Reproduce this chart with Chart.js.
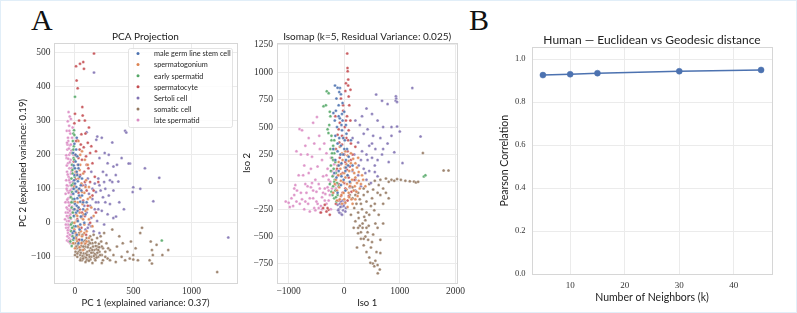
<!DOCTYPE html>
<html>
<head>
<meta charset="utf-8">
<script src="https://cdn.jsdelivr.net/npm/chart.js@4.4.0/dist/chart.umd.min.js"></script>
<style>
  body { margin: 0; background: #fff; }
  #wrap { position: relative; width: 797px; height: 313px; overflow: hidden; }
  canvas { position: absolute; top: 0; }
  .tag { position: absolute; top: 5px; font-family: "Liberation Serif", "DejaVu Serif", serif; font-size: 30px; line-height: 1; color: #111; }
  #edge { position: absolute; left: 0; top: 0; right: 0; bottom: 0; border: 1px solid #e1eef8; pointer-events: none; }
</style>
</head>
<body>
<div id="wrap">
  <div class="tag" style="left:31px">A</div>
  <div class="tag" style="left:469px">B</div>
  <canvas id="pca" width="245" height="313" style="left:0px"></canvas>
  <canvas id="iso" width="236" height="313" style="left:232px"></canvas>
  <canvas id="corr" width="317" height="313" style="left:480px"></canvas>
  <div id="edge"></div>
</div>
<script>
// cell types, in legend order
const cellTypes = ['male germ line stem cell', 'spermatogonium', 'early spermatid', 'spermatocyte', 'Sertoli cell', 'somatic cell', 'late spermatid'];
const typeColors = ['#4C72B0', '#DD8452', '#55A868', '#C44E52', '#8172B3', '#937860', '#DA8BC3'];

// ---- PCA projection (PC1, PC2) ----
const pcaStem = [[-5,232],[10,215],[-15,205],[20,195],[5,180],[-10,168],[30,160],[15,150],[-5,140],[40,135],[25,122],[0,115],[50,110],[35,100],[10,92],[-15,85],[60,80],[20,72],[45,62],[0,55],[30,45],[70,40],[10,30],[-10,20],[50,18],[25,5],[80,0],[5,-10],[40,-20],[15,-35],[-10,-45],[60,-50],[30,-60],[-20,-30],[90,25],[100,60],[60,130],[-5,70],[15,250],
  [0,160],[20,140],[-8,125],[12,105],[35,80],[-5,40],[15,50],[55,95],[28,170],[5,200],[-12,100],[22,35],[45,-5],[-8,-25],[70,60]];
const pcaGonium = [[30,240],[60,210],[15,195],[85,185],[45,170],[110,170],[5,150],[70,145],[30,130],[95,125],[55,115],[-10,105],[120,105],[20,95],[80,88],[45,75],[110,70],[0,62],[65,55],[30,45],[140,45],[90,35],[10,25],[55,15],[120,10],[-5,0],[80,-5],[35,-15],[150,-10],[100,-25],[5,-30],[60,-40],[20,-55],[90,-60],[40,-72],[-15,-60],[0,-75],[70,-80],[120,-45],[160,20],[45,200],[25,-10],
  [10,-45],[35,-35],[55,-60],[80,-30],[100,-55],[20,20],[40,30],[70,10],[0,40],[25,60],[60,90],[90,105],[10,140],[40,155],[-5,-20],[15,5],[50,-25],[75,25],[105,40],[130,75]];
const pcaEarly = [[0,370],[-8,272],[-14,262],[-5,258],[-18,240],[-10,225],[-22,205],[-12,190],[-25,170],[-8,160],[-20,145],[-30,130],[-15,115],[-5,100],[-25,90],[-35,75],[-12,60],[-28,45],[-18,30],[-38,15],[-22,0],[-10,-10],[-32,-25],[-20,-40],[-40,-55],[-28,-68],[-15,-50],[-8,20],[-35,-5],[745,-52],[-2,135],[-20,70],
  [-28,110],[-22,155],[-30,60],[-12,40],[-25,-15],[-18,-60],[-6,185],[-14,215]];
const pcaCyte = [[163,497],[71,472],[43,467],[9,460],[77,452],[14,418],[23,395],[63,340],[66,315],[0,320],[35,300],[-5,292],[90,262],[55,260],[20,242],[110,235],[75,222],[40,215],[130,205],[0,200],[95,195],[60,185],[150,175],[25,170],[115,160],[80,150],[45,140],[170,135],[5,128],[130,120],[65,110],[100,95],[30,88],[150,80],[70,65],[-5,60],[110,50],[40,40],[180,30],[85,20],[20,10],[130,0],[55,-15],[0,-28],[95,-35],[35,-50],[-15,-15],[160,95],[200,120],[120,280],[85,300],[140,225],[180,210],
  [10,240],[-10,180],[30,190],[50,230],[15,145],[-5,110],[40,100],[85,120],[60,30],[100,170]];
const pcaSertoli = [[163,441],[320,236],[191,253],[183,244],[100,266],[472,174],[460,174],[372,121],[500,104],[495,90],[723,132],[672,63],[420,40],[352,18],[329,14],[1315,-43],[430,270],[440,265],[255,205],[210,190],[280,175],[330,165],[240,150],[200,130],[300,125],[170,115],[260,100],[220,95],[180,90],[150,70],[240,75],[290,80],[200,60],[130,50],[170,40],[230,35],[280,25],[140,15],[190,5],[250,-5],[110,-15],[160,-25],[210,-30],[120,85],[90,110],[140,150],[360,170],[400,190],[270,140],[330,95],[300,55],[380,60],[560,100],[600,160],[230,250],[250,120],
  [60,20],[80,50],[100,30],[120,-5],[90,-20],[150,100],[180,60],[210,110],[110,130],[140,-10],[200,40],[260,60],[320,120],[350,140],[290,200]];
const pcaSomatic = [[0,-60],[15,-75],[30,-85],[45,-95],[60,-80],[75,-90],[90,-70],[105,-85],[120,-95],[135,-75],[150,-60],[165,-80],[180,-95],[195,-70],[210,-85],[225,-55],[240,-75],[20,-100],[50,-105],[80,-100],[110,-108],[140,-100],[170,-105],[200,-100],[230,-95],[10,-40],[40,-50],[70,-55],[100,-45],[130,-40],[160,-35],[190,-45],[220,-40],[250,-30],[270,-60],[300,-80],[330,-95],[360,-70],[280,-105],[240,-110],[60,-110],[100,-110],[25,-65],[55,-68],[85,-62],[115,-65],[145,-50],[175,-58],[205,-62],[35,-30],[65,-35],[95,-90],[125,-82],[155,-88],[185,-78],[320,-20],[380,-40],[410,-60],[450,-85],[400,-100],[430,-110],[470,-105],[500,-95],[520,-75],[560,-30],[575,-15],[480,-55],[650,-55],[660,-80],[668,-95],[640,-110],[700,-65],[800,-80],[750,-95],[660,-120],[540,-110],[500,-108],[1220,-145],[350,-115],[300,-110],[260,-100],[230,-118],[150,-118],
  [5,-85],[20,-90],[35,-72],[50,-88],[65,-98],[80,-78],[95,-102],[110,-72],[125,-100],[140,-88],[155,-70],[170,-92],[185,-102],[200,-80],[215,-95],[230,-70],[10,-70],[28,-55],[42,-80],[58,-58],[72,-70],[88,-52],[102,-95],[118,-55],[132,-108],[148,-80],[162,-98],[178,-68],[192,-88],[208,-72],[260,-85],[285,-75],[0,-95],[45,-110],[90,-115],[15,-50],[70,-105],[130,-60],[175,-110],[120,-112]];
const pcaLate = [[-55,325],[-45,312],[-62,298],[-35,305],[-50,285],[-70,270],[-40,262],[-25,250],[-58,240],[-45,228],[-65,215],[-30,212],[-50,200],[-72,190],[-38,185],[-60,175],[-25,170],[-48,160],[-68,150],[-35,145],[-55,135],[-75,125],[-42,118],[-62,108],[-28,100],[-50,92],[-80,85],[-35,80],[-58,72],[-70,62],[-45,55],[-25,48],[-62,40],[-78,30],[-40,25],[-55,15],[-68,5],[-32,0],[-50,-8],[-75,-15],[-42,-22],[-60,-30],[-30,-38],[-52,-45],[-68,-52],[-40,-60],[-85,10],[-82,60],[-65,95],[-45,130],[-30,160],[-55,60],[-38,40],[-60,-5],[-48,20],[-70,110],[-20,120],[-35,230],[-15,200],[-20,280],
  [-65,230],[-52,218],[-40,205],[-75,198],[-58,188],[-45,178],[-70,168],[-30,152],[-62,142],[-50,125],[-38,110],[-72,100],[-55,88],[-42,75],[-66,68],[-30,62],[-50,50],[-72,45],[-60,30],[-45,35],[-35,12],[-70,20],[-58,-15],[-45,-35],[-65,-40],[-55,-55],[-38,-50],[-78,-5],[-25,30],[-28,85],[-60,250],[-48,270],[-68,235],[-40,95],[-52,5],[-62,-22]];

// ---- Isomap embedding (Iso 1, Iso 2) ----
const isoStem = [[-166,879],[-77,858],[-120,860],[-195,629],[-140,760],[-60,800],[-100,700],[-30,720],[-170,560],[-80,580],[0,640],[-130,500],[-40,470],[30,520],[-160,420],[-90,400],[10,380],[-60,330],[50,300],[-120,280],[-20,250],[80,230],[-160,200],[-50,170],[30,130],[-100,100],[60,60],[-140,40],[-10,20],[100,0],[-60,-30],[20,-80],[-120,-100],[150,150],[120,380],[-200,300],[-30,560],[40,440],
  [-100,600],[-50,520],[-120,350],[0,300],[-70,250],[30,200],[-100,150],[20,100],[-50,50],[-180,80],[70,150],[-20,400],[-150,650],[-90,820],[-40,620]];
const isoGonium = [[-80,320],[20,280],[120,260],[-30,200],[80,190],[200,170],[-120,150],[10,130],[150,110],[260,90],[-60,70],[60,60],[200,40],[-150,20],[-20,0],[110,-10],[300,-20],[-90,-50],[40,-70],[170,-80],[-50,-120],[90,-140],[240,-130],[-130,-170],[20,-190],[150,-200],[320,60],[380,-40],[-200,-100],[250,220],[-10,400],[100,-40],[0,-160],[200,-160],
  [-40,260],[60,240],[160,210],[-100,180],[40,160],[120,170],[230,130],[-70,120],[90,100],[180,80],[-110,60],[20,40],[140,20],[260,10],[-60,10],[50,-20],[190,-40],[-130,-80],[80,-100],[220,-90],[-10,-100],[130,-160],[-80,-160],[60,-230],[280,-60],[340,20],[-170,-20],[0,80],[230,-10],[-40,-200]];
const isoEarly = [[-314,827],[-280,810],[-373,690],[-330,700],[-284,446],[-300,480],[-250,600],[-270,520],[-230,380],[-200,330],[-250,300],[-180,260],[-220,220],[-160,180],[-240,150],[-190,120],[-150,80],[-210,50],[-170,20],[-130,-10],[-200,-40],[-160,-80],[-120,-120],[-180,-150],[-140,-180],[-100,-40],[-230,-90],[-260,-20],[1433,49],[1460,60],[-220,260],[-180,380],
  [-200,200],[-240,100],[-180,0],[-210,-120],[-150,-140],[-190,300],[-230,420],[-260,640]];
const isoCyte = [[53,1172],[59,1040],[62,1010],[71,934],[112,842],[80,780],[20,830],[-60,760],[90,700],[-20,650],[50,600],[110,560],[-80,540],[10,500],[80,470],[-120,430],[40,400],[120,350],[-40,340],[-150,300],[60,280],[150,250],[-80,220],[20,180],[100,140],[-130,120],[-30,80],[80,40],[180,20],[-100,-20],[20,-60],[130,-90],[-60,-130],[60,-170],[-150,-200],[-284,-256],[-320,-270],[-380,-240],[-420,-280],[-260,-300],[-350,-210],[-300,-240],[200,320],[-160,600],
  [-100,480],[30,560],[-40,420],[70,380],[-90,360],[0,250],[120,200],[-60,160],[50,110],[-110,60],[0,-10],[110,-40],[-30,-100],[80,-130],[-100,-170],[-20,700],[30,900],[70,880]];
const isoSertoli = [[1225,858],[574,797],[930,781],[935,760],[925,740],[950,730],[680,740],[780,710],[1373,415],[1048,171],[400,670],[320,600],[500,620],[200,560],[600,560],[280,520],[420,480],[700,500],[850,500],[950,505],[350,440],[520,420],[150,400],[650,400],[250,360],[450,330],[780,350],[560,300],[320,280],[900,270],[180,250],[680,250],[420,200],[550,150],[260,150],[800,180],[150,100],[380,80],[600,50],[200,20],[480,-10],[100,-50],[-48,-226],[-80,-200],[-20,-260],[-100,-250],[-60,-290],[0,-200],[-30,-170],[-120,-210],[30,-240],[700,300],[850,420],[1000,460],
  [300,200],[400,250],[500,220],[350,120],[450,100],[250,60],[550,90],[400,20],[300,-40],[200,-80],[500,350],[600,200],[-70,-230],[-10,-220],[-90,-280],[-40,-300],[20,-270],[-110,-260],[-60,-180],[10,-180]];
const isoSomatic = [[604,-836],[640,-800],[515,-745],[540,-770],[560,-720],[249,-470],[300,-520],[350,-580],[400,-640],[450,-690],[480,-600],[380,-500],[280,-400],[200,-360],[330,-420],[430,-530],[520,-480],[600,-420],[650,-530],[700,-380],[620,-300],[540,-260],[450,-300],[360,-320],[250,-280],[180,-240],[300,-200],[400,-180],[500,-150],[600,-100],[700,-60],[150,-150],[250,-100],[350,-60],[450,-20],[550,10],[650,20],[750,30],[850,20],[950,25],[1019,18],[1100,10],[1180,5],[1255,3],[1290,-5],[1330,0],[1788,104],[1876,104],[1415,263],[230,-600],[170,-420],[120,-300],[700,-200],[800,-150],[580,-640],[650,-650],[400,-420],
  [150,-50],[200,-120],[280,-160],[350,-120],[420,-90],[320,-250],[400,-280],[480,-220],[550,-200],[220,-200],[260,-330],[330,-380],[380,-350],[440,-400],[300,-460],[350,-520],[420,-460],[500,-550],[470,-740],[600,-760],[250,-420],[560,-380],[650,-120],[750,-100],[100,-120],[180,-80],[520,-70],[620,-30],[800,0],[900,10]];
const isoLate = [[-1053,-180],[-805,482],[-760,470],[-491,592],[-560,540],[-640,400],[-700,330],[-860,280],[-950,-150],[-1000,-190],[-900,-120],[-980,-230],[-920,-220],[-850,-80],[-800,-200],[-880,-30],[-760,-160],[-720,-250],[-680,-100],[-650,-200],[-600,-50],[-620,-270],[-560,-150],[-540,-240],[-500,-90],[-480,-200],[-460,-20],[-430,-280],[-400,-140],[-380,50],[-350,-60],[-320,-200],[-300,120],[-280,20],[-260,-120],[-240,220],[-220,-60],[-200,60],[-180,160],[-160,-30],[-720,150],[-640,80],[-580,230],[-520,20],[-480,140],[-440,300],[-400,200],[-360,350],[-320,260],[-600,120],[-540,350],[-450,420],[-700,-20],[-820,60],[-780,250],[-660,250],[-420,-220],[-350,-170],[-280,-170],[-240,-250],
  [-300,-50],[-250,0],[-200,-100],[-180,200],[-140,100],[-150,-60],[-320,60],[-380,-100],[-440,-60],[-500,-180],[-560,-80],[-620,-150],[-700,-180],[-780,-100],[-860,-180],[-900,-60],[-740,60],[-660,-40],[-580,-10],[-520,-260],[-460,-240],[-400,-250],[-340,-110],[-280,-80],[-220,100]];

const pcaGroups = [pcaStem, pcaGonium, pcaEarly, pcaCyte, pcaSertoli, pcaSomatic, pcaLate];
const isoGroups = [isoStem, isoGonium, isoEarly, isoCyte, isoSertoli, isoSomatic, isoLate];

// ---- panel B ----
const neighbors = [5, 10, 15, 30, 45];
const pearson = [0.926, 0.930, 0.935, 0.944, 0.950];

// tick labels
const pcaXTicks = [0, 500, 1000];
const pcaYTicks = [-100, 0, 100, 200, 300, 400, 500];
const isoXTicks = [-1000, 0, 1000, 2000];
const isoYTicks = [-750, -500, -250, 0, 250, 500, 750, 1000, 1250];
const kTicks = [10, 20, 30, 40];
const corrTicks = [0, 0.2, 0.4, 0.6, 0.8, 1.0];

const SANS = 'Lato, "DejaVu Sans", sans-serif';
const SERIF = '"Liberation Serif", "DejaVu Serif", serif';
const minus = v => String(v).replace('-', '\u2212');

// light frame round the plot area, like the seaborn whitegrid spines
const frame = {
  id: 'frame',
  beforeDatasetsDraw(chart) {
    const a = chart.chartArea, ctx = chart.ctx;
    ctx.save();
    ctx.strokeStyle = '#d6d6d6';
    ctx.lineWidth = 1;
    ctx.strokeRect(Math.round(a.left) + 0.5, Math.round(a.top) + 0.5, Math.round(a.right - a.left), Math.round(a.bottom - a.top));
    ctx.restore();
  }
};

// legend box drawn inside the PCA plot (upper right)
const innerLegend = {
  id: 'innerLegend',
  afterDatasetsDraw(chart) {
    const a = chart.chartArea, ctx = chart.ctx;
    const w = 104, h = 79;
    const x0 = a.right - w - 5, y0 = a.top + 5;
    ctx.save();
    ctx.fillStyle = 'rgba(255,255,255,0.85)';
    ctx.strokeStyle = '#dcdcdc';
    ctx.lineWidth = 0.8;
    ctx.beginPath();
    ctx.roundRect(x0 + 0.5, y0 + 0.5, w, h, 2);
    ctx.fill();
    ctx.stroke();
    ctx.font = '7.3px ' + SANS;
    ctx.textBaseline = 'middle';
    cellTypes.forEach((name, i) => {
      const y = y0 + 5.5 + i * 11.1;
      ctx.beginPath();
      ctx.arc(x0 + 10, y, 1.5, 0, Math.PI * 2);
      ctx.fillStyle = typeColors[i];
      ctx.fill();
      ctx.fillStyle = '#262626';
      ctx.fillText(name, x0 + 26, y + 0.5);
    });
    ctx.restore();
  }
};

function axis(opt) {
  return {
    type: 'linear',
    min: opt.min,
    max: opt.max,
    afterBuildTicks: s => { s.ticks = opt.ticks.map(v => ({ value: v })); },
    afterFit: s => { if (opt.horizontal) s.height = opt.size; else s.width = opt.size; },
    grid: { color: '#ebebeb', lineWidth: 1, drawTicks: false },
    border: { display: false },
    ticks: {
      padding: opt.tickPad,
      color: '#333',
      autoSkip: false,
      maxRotation: 0,
      font: { family: SERIF, size: opt.tickSize || 9.5 },
      callback: opt.fmt || minus
    },
    title: {
      display: true,
      text: opt.title,
      color: '#222',
      font: { family: SANS, size: opt.titleSize || 9.5, lineHeight: 1.2 },
      padding: opt.titlePad
    }
  };
}

function scatterDatasets(groups) {
  return groups.map((pts, i) => ({
    label: cellTypes[i],
    data: pts.map(p => ({ x: p[0], y: p[1] })),
    backgroundColor: typeColors[i] + 'e6',
    borderColor: 'rgba(255,255,255,0.8)',
    borderWidth: 0.4,
    pointRadius: 1.5
  }));
}

function plotTitle(text, size) {
  return {
    display: true,
    text: text,
    fullSize: false,
    color: '#222',
    font: { family: SANS, size: size, weight: 'normal', lineHeight: 1.2 },
    padding: 0
  };
}

new Chart(document.getElementById('pca'), {
  type: 'scatter',
  data: { datasets: scatterDatasets(pcaGroups) },
  options: {
    responsive: false,
    animation: false,
    events: [],
    layout: { padding: { top: 31, right: 8, left: 0, bottom: 0 } },
    plugins: { legend: { display: false }, tooltip: { enabled: false }, title: plotTitle('PCA Projection', 10) },
    scales: {
      x: axis({ min: -180, max: 1390, ticks: pcaXTicks, horizontal: true, size: 30, tickPad: 3, title: 'PC 1 (explained variance: 0.37)', titlePad: { top: 0, bottom: 4.6 } }),
      y: axis({ min: -177, max: 528, ticks: pcaYTicks, size: 54, tickPad: 3.5, title: 'PC 2 (explained variance: 0.19)', titlePad: { top: 17, bottom: 0 } })
    }
  },
  plugins: [frame, innerLegend]
});

new Chart(document.getElementById('iso'), {
  type: 'scatter',
  data: { datasets: scatterDatasets(isoGroups) },
  options: {
    responsive: false,
    animation: false,
    events: [],
    layout: { padding: { top: 31, right: 8, left: 0, bottom: 0 } },
    plugins: { legend: { display: false }, tooltip: { enabled: false }, title: plotTitle('Isomap (k=5, Residual Variance: 0.025)', 10) },
    scales: {
      x: axis({ min: -1210, max: 2035, ticks: isoXTicks, horizontal: true, size: 30, tickPad: 3, title: 'Iso 1', titlePad: { top: 0, bottom: 4.6 } }),
      y: axis({ min: -924, max: 1268, ticks: isoYTicks, size: 45, tickPad: 4, title: 'Iso 2', titlePad: { top: 9.3, bottom: 0 } })
    }
  },
  plugins: [frame]
});

new Chart(document.getElementById('corr'), {
  type: 'line',
  data: {
    datasets: [{
      label: 'Human',
      data: neighbors.map((k, i) => ({ x: k, y: pearson[i] })),
      borderColor: '#4C72B0',
      backgroundColor: '#4C72B0',
      borderWidth: 1.5,
      pointRadius: 3,
      pointBorderColor: '#4C72B0',
      pointBorderWidth: 0.5,
      tension: 0
    }]
  },
  options: {
    responsive: false,
    animation: false,
    events: [],
    layout: { padding: { top: 33, right: 25, left: 0, bottom: 0 } },
    plugins: { legend: { display: false }, tooltip: { enabled: false }, title: plotTitle('Human \u2014 Euclidean vs Geodesic distance', 12) },
    scales: {
      x: axis({ min: 3, max: 47, ticks: kTicks, horizontal: true, size: 39, tickPad: 6.5, tickSize: 9, title: 'Number of Neighbors (k)', titleSize: 10.5, titlePad: { top: 0, bottom: 8.7 } }),
      y: axis({ min: 0, max: 1.055, ticks: corrTicks, size: 52, tickPad: 6.5, tickSize: 8.5, fmt: v => v.toFixed(1), title: 'Pearson Correlation', titleSize: 10.5, titlePad: { top: 18.7, bottom: 0 } })
    }
  },
  plugins: [frame]
});
</script>
</body>
</html>
